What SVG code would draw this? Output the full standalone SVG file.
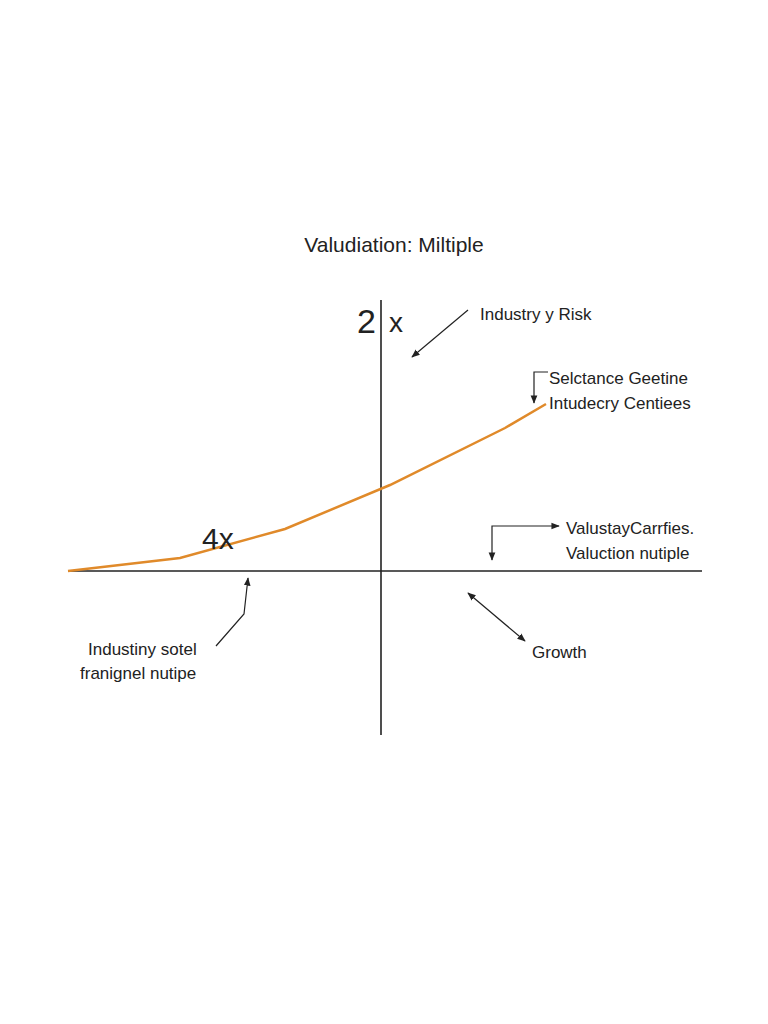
<svg xmlns="http://www.w3.org/2000/svg" width="768" height="1024" viewBox="0 0 768 1024">
<defs>
<marker id="ah" viewBox="0 0 10 10" refX="9" refY="5" markerWidth="7" markerHeight="7" orient="auto-start-reverse"><path d="M0,1 L10,5 L0,9 z" fill="#222"/></marker>
</defs>
<style>
text{font-family:"Liberation Sans",Arial,sans-serif;fill:#222}
.l{font-size:17px}
.c{stroke:#222;stroke-width:1.2;fill:none}
</style>
<rect width="768" height="1024" fill="#fff"/>
<g id="title"><text x="394" y="252" text-anchor="middle" font-size="21">Valudiation: Miltiple</text></g>
<g id="axes">
<line x1="381" y1="300" x2="381" y2="735" stroke="#222" stroke-width="1.6"/>
<line x1="68" y1="571" x2="702" y2="571" stroke="#222" stroke-width="1.6"/>
</g>
<g id="curve"><polyline points="68,571 180,558 285,529 390,485 505,428 546,404" fill="none" stroke="#e08a2a" stroke-width="2.5"/></g>
<g id="label-2x"><text x="357" y="333" font-size="34">2</text><text x="389" y="332" font-size="28">x</text></g>
<g id="label-4x"><text x="202" y="549" font-size="30">4x</text></g>
<g id="n-risk"><text class="l" x="480" y="320">Industry y Risk</text></g>
<g id="n-sel"><text class="l" x="549" y="384">Selctance Geetine</text><text class="l" x="549" y="409">Intudecry Centiees</text></g>
<g id="n-val"><text class="l" x="566" y="534">ValustayCarrfies.</text><text class="l" x="566" y="559">Valuction nutiple</text></g>
<g id="n-ind"><text class="l" x="88" y="655">Industiny sotel</text><text class="l" x="80" y="679">franignel nutipe</text></g>
<g id="n-growth"><text class="l" x="532" y="658">Growth</text></g>
<g id="connectors">
<line class="c" x1="468" y1="310" x2="412" y2="357" marker-end="url(#ah)"/>
<polyline class="c" points="548,372 534,372 534,403" marker-end="url(#ah)"/>
<polyline class="c" points="492,560 492,526 559,526" marker-start="url(#ah)" marker-end="url(#ah)"/>
<polyline class="c" points="216,646 244,614 248,578" marker-end="url(#ah)"/>
<line class="c" x1="468" y1="593" x2="525" y2="641" marker-start="url(#ah)" marker-end="url(#ah)"/>
</g>
</svg>
